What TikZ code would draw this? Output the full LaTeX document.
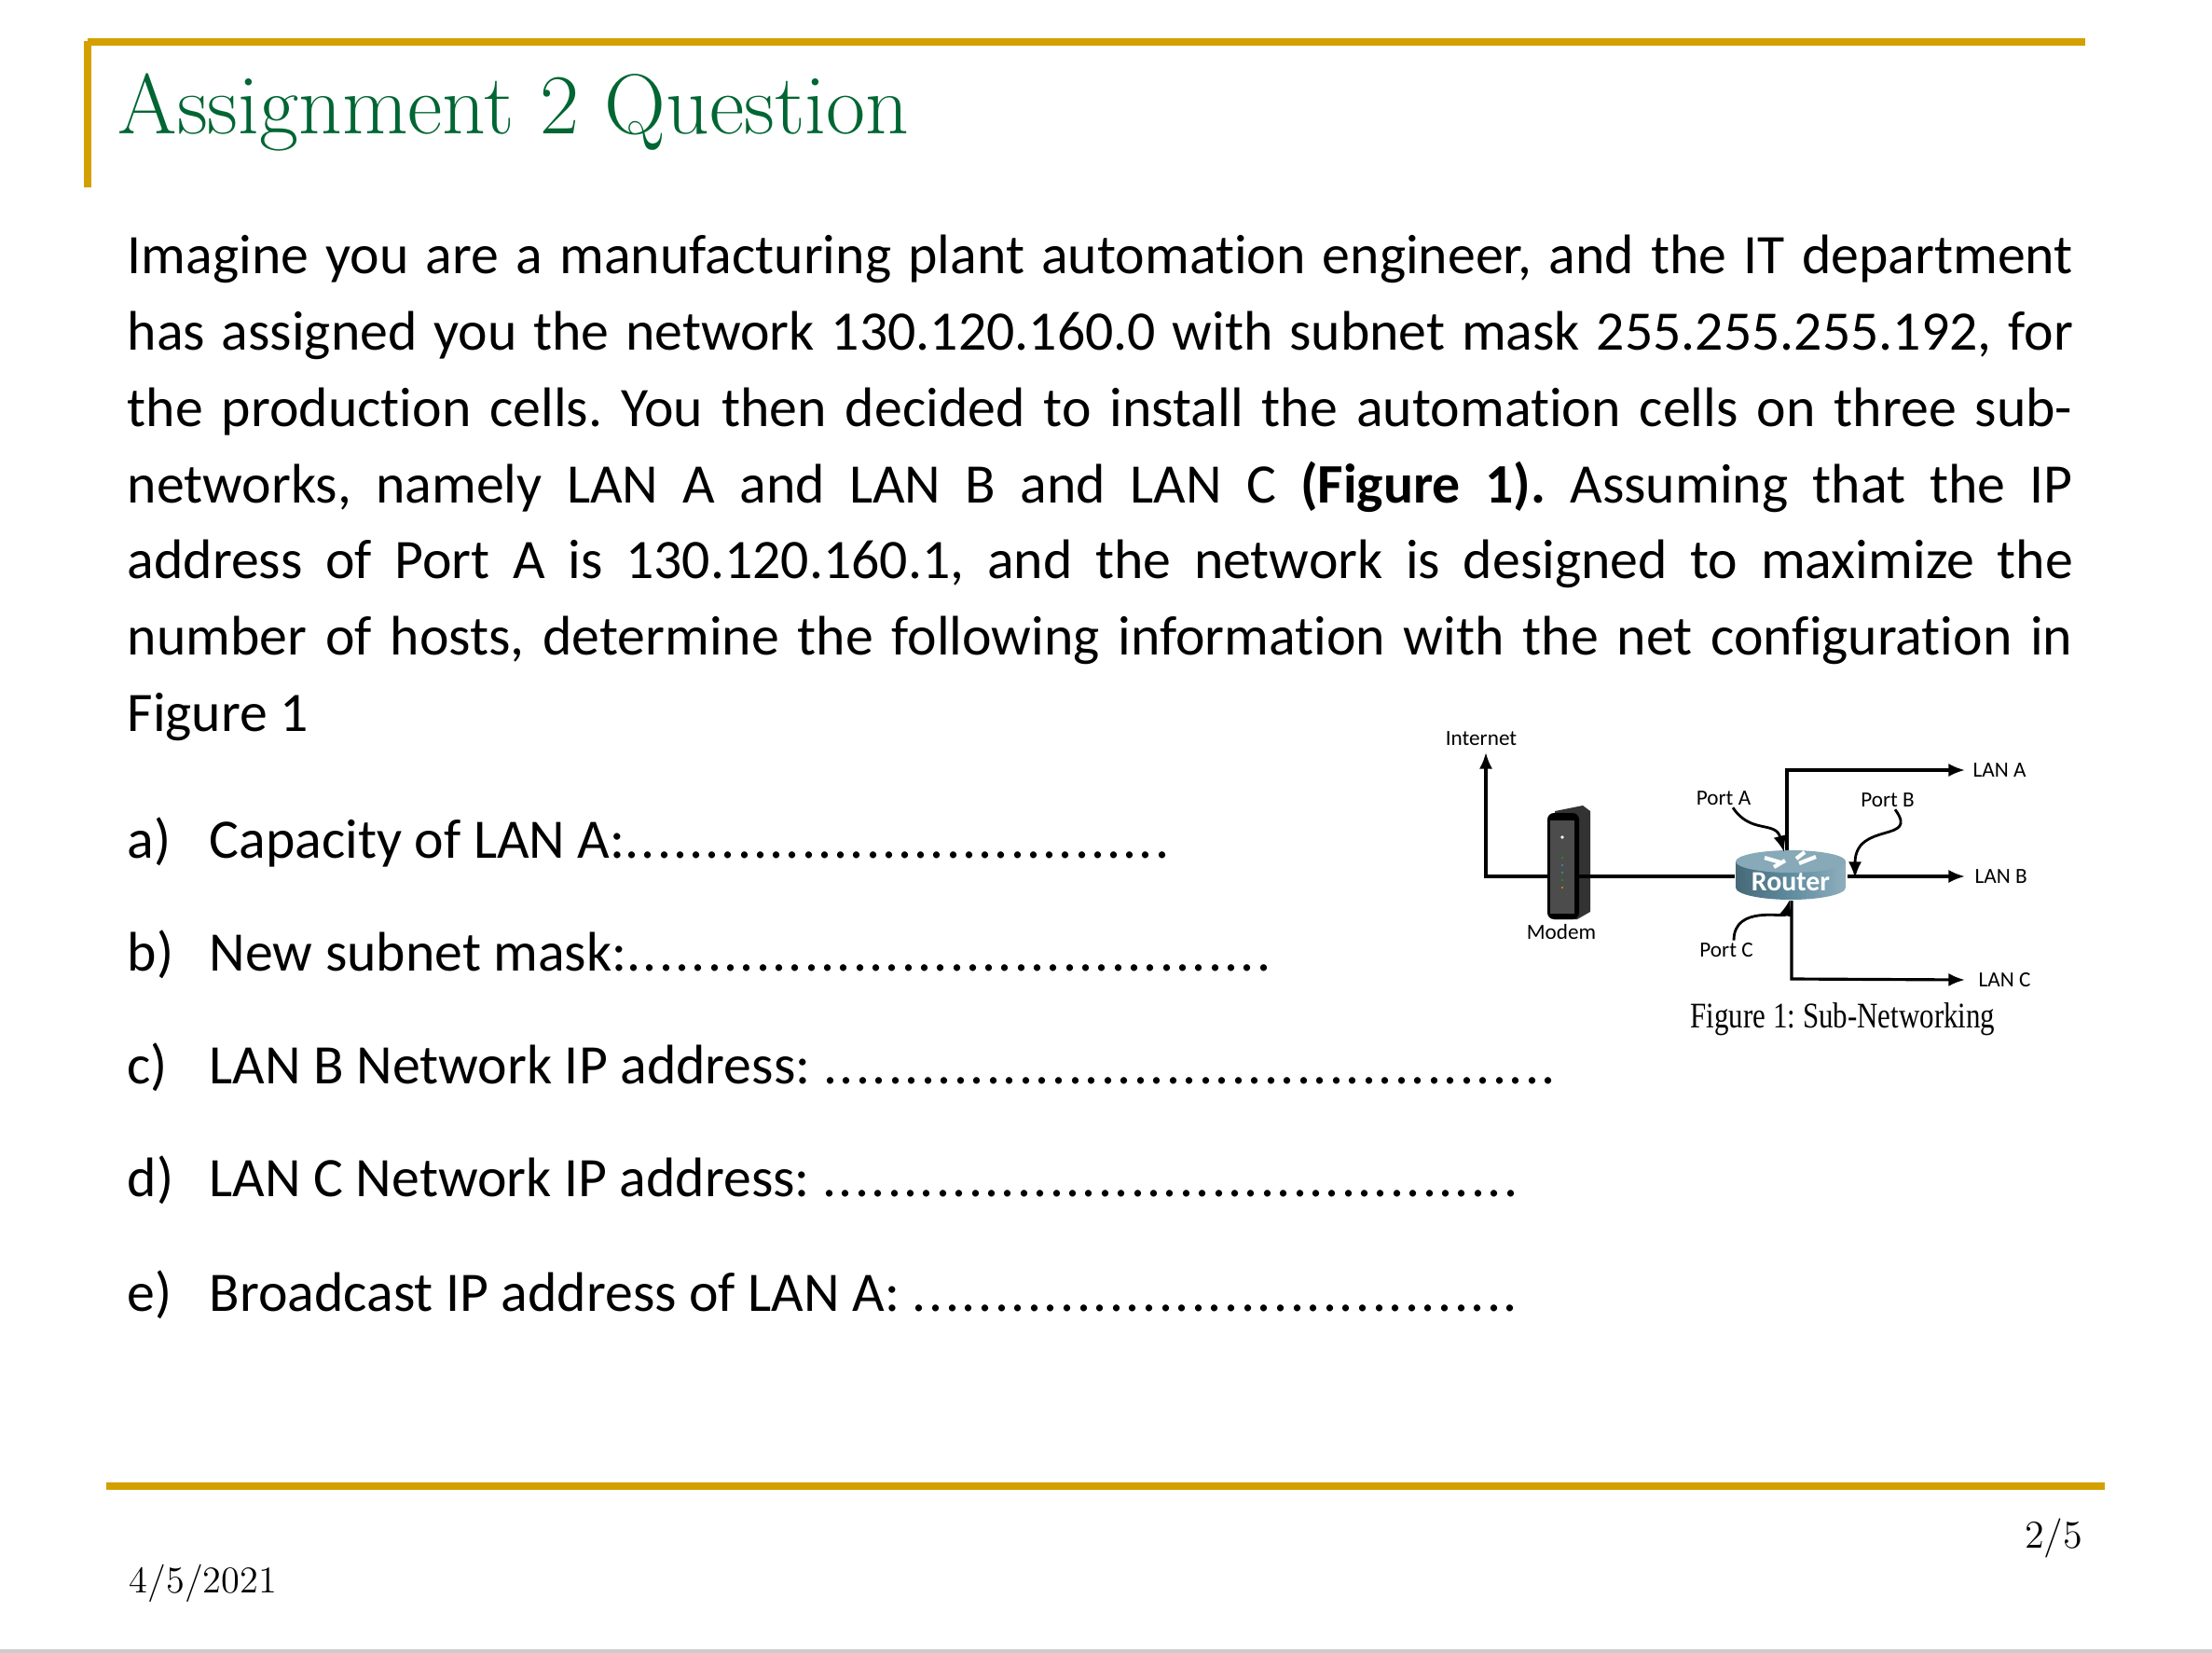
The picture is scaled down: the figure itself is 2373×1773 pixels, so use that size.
\documentclass[tikz,border=0pt]{standalone}
\usepackage{fontspec}
\setmainfont{Carlito}[Ligatures=NoCommon]
\newfontfamily\titlefont{Latin Modern Roman}
\newfontfamily\capfont{Liberation Serif}
\usetikzlibrary{arrows.meta,calc}
\frenchspacing
\definecolor{gold}{RGB}{212,160,0}
\definecolor{tgreen}{RGB}{0,102,51}
\definecolor{rtr}{RGB}{95,140,160}
\tikzset{
  body/.style={anchor=base west,inner sep=0pt,font=\fontsize{17}{23.3}\selectfont},
  small/.style={inner sep=0pt,font=\fontsize{6.6}{8}\selectfont},
  conn/.style={line width=0.9pt,-{Latex[length=5pt,width=4pt]}},
  wire/.style={line width=0.9pt},
  portarr/.style={line width=0.8pt,-{Latex[length=5pt,width=4pt]}}
}
\newcommand{\itemline}[2]{\hbox to #1{#2\xleaders\hbox{.\kern0.6pt}\hfill}}
\begin{document}
\begin{tikzpicture}[x=0.01cm,y=-0.01cm]
\useasboundingbox (0,0) rectangle (2373,1773);
% frame
\draw[gold,line width=2.2pt] (94,45) -- (2237,45);
\draw[gold,line width=2.2pt] (94,44) -- (94,201);
\node[anchor=base west,inner sep=0pt,text=tgreen,font=\titlefont\fontsize{26}{30}\selectfont] (title) at (126,144) {Assignment 2 Question};
% paragraph
\node[anchor=north west,inner sep=0pt,text width=20.86cm,align=justify,font=\fontsize{17}{23.3}\selectfont] (para) at (136,251)
{Imagine you are a manufacturing plant automation engineer, and the IT department\linebreak has assigned you the network 130.120.160.0 with subnet mask 255.255.255.192, for\linebreak the production cells. You then decided to install the automation cells on three sub-\linebreak networks, namely LAN A and LAN B and LAN C \textbf{(Figure 1).} Assuming that the IP\linebreak address of Port A is 130.120.160.1, and the network is designed to maximize the\linebreak number of hosts, determine the following information with the net configuration in\linebreak Figure 1};
% items
\node[body] (la) at (136,920) {a)};
\node[body] (lb) at (136,1041) {b)};
\node[body] (lc) at (136,1162) {c)};
\node[body] (ld) at (136,1283) {d)};
\node[body] (le) at (136,1406) {e)};
\node[body] (ia) at (224,920) {\itemline{10.32cm}{Capacity of LAN A:}};
\node[body] (ib) at (224,1041) {\itemline{11.41cm}{New subnet mask:}};
\node[body] (ic) at (224,1162) {\itemline{14.47cm}{LAN B Network IP address: }};
\node[body] (id) at (224,1283) {\itemline{14.06cm}{LAN C Network IP address: }};
\node[body] (ie) at (224,1406) {\itemline{14.06cm}{Broadcast IP address of LAN A: }};
% figure
\node[small] (internet) at (1589,792) {Internet};
\coordinate (netc) at (1594,807);
\coordinate (mbend) at (1594,940);
% modem
\fill[black!80] (1668,870) -- (1698,864) -- (1706,870) -- (1706,978) -- (1692,986) -- (1668,986) -- cycle;
\fill[black,rounded corners=2pt] (1660,872) rectangle (1694,986);
\fill[black!70] (1663,880) rectangle (1689,980);
\fill[white] (1676,898) circle (1.8);
\foreach \yy/\cc in {920/green!70!black,928/cyan!70!black,936/cyan!70!black,944/green!70!black,952/orange} \fill[\cc] (1676,\yy) circle (1.2);
\coordinate (modemR) at (1694,940);
\coordinate (modemL) at (1660,940);
\node[small] (modemlbl) at (1675,1000) {Modem};
\draw[conn] (modemL) -- (mbend) -- (netc);
% router
\shade[left color=rtr!75!black,right color=rtr!70,middle color=rtr] (1862,924) -- (1862,952) arc[start angle=180,end angle=0,x radius=59,y radius=13] -- (1980,924) -- cycle;
\fill[rtr!75!white] (1921,924) ellipse[x radius=59,y radius=12];
\draw[white,line width=1.2pt] (1893,920)--(1910,925) (1948,919)--(1930,926) (1903,930)--(1915,923) (1936,914)--(1927,921);
\node[inner sep=0pt,text=white,font=\bfseries\fontsize{8.5}{9}\selectfont] (router) at (1921,946) {Router};
\coordinate (rtop) at (1917,912);
\coordinate (rright) at (1982,940);
\coordinate (rbot) at (1922,966);
\coordinate (rleft) at (1861,940);
\draw[wire] (modemR) -- (rleft);
% LANs
\coordinate (aturn) at (1917,826);
\coordinate (cturn) at (1922,1050);
\node[small,anchor=west] (lana) at (2116,826) {LAN A};
\node[small,anchor=west] (lanb) at (2118,940) {LAN B};
\node[small,anchor=west] (lanc) at (2122,1051) {LAN C};
\draw[conn] (rtop) -- (aturn) -- ($(lana.west)+(-8,0)$);
\draw[conn] (rright) -- ($(lanb.west)+(-10,0)$);
\draw[conn] (rbot) -- (cturn) -- ($(lanc.west)+(-14,0)$);
% ports
\node[small] (porta) at (1849,856) {Port A};
\node[small] (portb) at (2025,858) {Port B};
\node[small] (portc) at (1852,1019) {Port C};
\draw[portarr] ($(porta.south)+(10,2)$) .. controls (1878,895) and (1905,880) .. (1914,914);
\draw[portarr] ($(portb.south)+(8,2)$) .. controls (2060,905) and (1990,880) .. (1990,942);
\draw[portarr] ($(portc.north)+(8,-2)$) .. controls (1860,970) and (1915,985) .. (1920,965);
\node[inner sep=0pt,font=\capfont\fontsize{11}{12}\selectfont] (cap) at (1977,1093) {\scalebox{0.8}[1]{Figure 1: Sub-Networking}};
% footer
\draw[gold,line width=2.2pt] (114,1594) -- (2258,1594);
\node[inner sep=0pt,anchor=base east,font=\titlefont\fontsize{12}{14}\selectfont] (pg) at (2235,1660) {2/5};
\node[inner sep=0pt,anchor=base west,font=\titlefont\fontsize{11.5}{14}\selectfont] (date) at (138,1708) {4/5/2021};
\draw[black!20,line width=1pt] (0,1771) -- (2373,1771);
\end{tikzpicture}
\end{document}
